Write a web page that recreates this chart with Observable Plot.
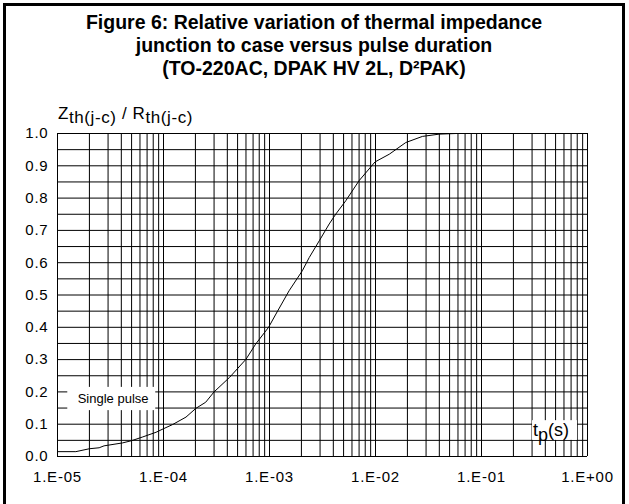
<!DOCTYPE html>
<html>
<head>
<meta charset="utf-8">
<script src="https://cdn.jsdelivr.net/npm/d3@7"></script>
<script src="https://cdn.jsdelivr.net/npm/@observablehq/plot@0.6"></script>
<style>
  html, body { margin: 0; padding: 0; background: #fff; }
  #wrap { position: relative; width: 629px; height: 504px; overflow: hidden; background: #fff;
          font-family: "Liberation Sans", Arial, sans-serif; color: #000; }
  #frame { position: absolute; left: 3px; top: 3px; width: 616px; height: 540px; border: 3px solid #000; }
  #title { position: absolute; left: 6px; width: 616px; top: 11px; text-align: center; font-weight: bold;
           font-size: 19.5px; line-height: 23px; }
  #ylabel { position: absolute; left: 58px; top: 104px; font-size: 17px; white-space: nowrap; letter-spacing: 0.6px; }
  #ylabel sub { font-size: 17px; vertical-align: -4px; line-height: 0; }
  #chart { position: absolute; left: 0; top: 0; }
</style>
</head>
<body>
<div id="wrap">
  <div id="chart"></div>
  <div id="frame"></div>
  <div id="title">Figure 6: Relative variation of thermal impedance<br>junction to case versus pulse duration<br>(TO-220AC, DPAK HV 2L, D²PAK)</div>
  <div id="ylabel">Z<sub>th(j-c)</sub> / R<sub>th(j-c)</sub></div>
</div>
<script>
// Pulse duration tp (s) and relative thermal impedance Zth/Rth (single pulse)
const tp = [1e-5, 1.49e-5, 2.0e-5, 2.47e-5, 2.75e-5, 4.1e-5, 5.0e-5, 6.3e-5, 8.5e-5, 1.0e-4,
            1.22e-4, 1.63e-4, 2.02e-4, 2.5e-4, 3.0e-4, 4.2e-4, 6.0e-4, 7.4e-4, 9.8e-4, 1.15e-3,
            1.53e-3, 2.04e-3, 2.37e-3, 2.95e-3, 3.66e-3, 4.23e-3, 5.25e-3, 7.0e-3, 9.9e-3, 1.35e-2,
            1.93e-2, 2.77e-2, 3.98e-2, 5.75e-2, 1.0];
const zth = [0.015, 0.015, 0.024, 0.027, 0.033, 0.042, 0.049, 0.060, 0.075, 0.086,
             0.099, 0.122, 0.149, 0.168, 0.200, 0.245, 0.301, 0.348, 0.400, 0.441,
             0.513, 0.575, 0.616, 0.668, 0.720, 0.751, 0.792, 0.854, 0.912, 0.936,
             0.972, 0.991, 0.998, 1.0, 1.0];

// Axis ticks
const xTicks = [1e-5, 1e-4, 1e-3, 1e-2, 1e-1, 1];
const xTickLabels = ["1.E-05", "1.E-04", "1.E-03", "1.E-02", "1.E-01", "1.E+00"];
const yTicks = [0, 0.1, 0.2, 0.3, 0.4, 0.5, 0.6, 0.7, 0.8, 0.9, 1.0];
const yTickLabels = ["0.0", "0.1", "0.2", "0.3", "0.4", "0.5", "0.6", "0.7", "0.8", "0.9", "1.0"];

// Grid multiples within each decade, and horizontal grid step
const decadeMultiples = [1, 2, 3, 4, 5, 6, 7, 8, 9];
const yGridStep = 0.05;

// Annotations (data coordinates)
const singlePulseBox = {x1: 1.25e-5, x2: 8.45e-5, y1: 0.142, y2: 0.214};
const singlePulseText = {x: 1.55e-5, y: 0.178, label: "Single pulse"};
const tpBox = {x1: 0.303, x2: 0.805, y1: 0.05, y2: 0.111};
const tpLabelPos = {x: 0.31, y: 0.062};

const data = tp.map((t, i) => ({t, z: zth[i]}));
const xGrid = [];
for (const d of xTicks.slice(0, -1)) for (const m of decadeMultiples) xGrid.push(d * m);
xGrid.push(xTicks[xTicks.length - 1]);
const yGrid = d3.range(0, Math.round(1 / yGridStep) + 1).map(i => +(i * yGridStep).toFixed(2));

const chart = Plot.plot({
  width: 629,
  height: 504,
  marginLeft: 57,
  marginRight: 42,
  marginTop: 133,
  marginBottom: 48,
  style: {fontFamily: "'Liberation Sans', Arial, sans-serif", fontSize: "15px", background: "transparent", color: "#000"},
  x: {type: "log", domain: [1e-5, 1], ticks: xTicks,
      tickFormat: d => xTickLabels[xTicks.findIndex(v => Math.abs(Math.log10(v) - Math.log10(d)) < 1e-6)],
      tickSize: 0, tickPadding: 15, label: null},
  y: {domain: [0, 1], ticks: yTicks,
      tickFormat: d => yTickLabels[yTicks.findIndex(v => Math.abs(v - d) < 1e-6)],
      tickSize: 0, tickPadding: 9, label: null},
  marks: [
    Plot.ruleX(xGrid, {stroke: "#000", strokeWidth: 1, strokeOpacity: 1}),
    Plot.ruleY(yGrid, {stroke: "#000", strokeWidth: 1, strokeOpacity: 1}),
    Plot.rect([singlePulseBox], {x1: "x1", x2: "x2", y1: "y1", y2: "y2", fill: "#fff"}),
    Plot.rect([tpBox], {x1: "x1", x2: "x2", y1: "y1", y2: "y2", fill: "#fff"}),
    Plot.line(data, {x: "t", y: "z", stroke: "#000", strokeWidth: 1, curve: "linear"}),
    Plot.text([singlePulseText], {x: "x", y: "y", text: "label", textAnchor: "start", fontSize: 13, fill: "#000", letterSpacing: "-0.3px"})
  ]
});
document.getElementById("chart").appendChild(chart);

// tp(s) label with subscript, placed through the plot's own scales
const sx = chart.scale("x"), sy = chart.scale("y");
const svg = d3.select(chart);
const tpText = svg.append("text")
  .attr("x", sx.apply(tpLabelPos.x))
  .attr("y", sy.apply(tpLabelPos.y))
  .attr("text-anchor", "start")
  .attr("font-size", 18)
  .attr("fill", "#000");
tpText.append("tspan").text("t");
tpText.append("tspan").attr("dy", 5).text("p");
tpText.append("tspan").attr("dy", -5).text("(s)");

// letter spacing on tick labels to match reference
svg.selectAll("g[aria-label='x-axis tick label'] text, g[aria-label='y-axis tick label'] text")
  .attr("letter-spacing", "0.8px");
</script>
</body>
</html>
